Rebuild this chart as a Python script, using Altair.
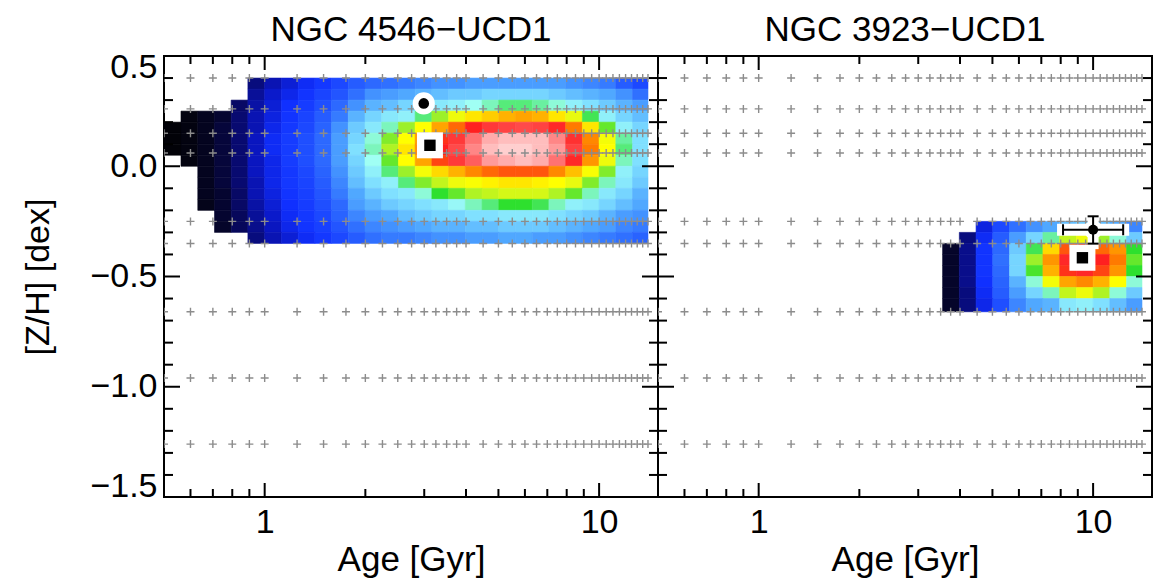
import altair as alt
import pandas as pd

FONT = "Liberation Sans"

# Log-spaced age bin edges of the likelihood grid (Gyr)
AGE_EDGES = [0.50, 0.562, 0.631, 0.708, 0.794, 0.891, 1.000, 1.122, 1.259, 1.413,
             1.585, 1.778, 1.995, 2.239, 2.512, 2.818, 3.162, 3.548, 3.981, 4.467,
             5.012, 5.623, 6.310, 7.079, 7.943, 8.913, 10.00, 11.22, 12.59, 14.0]

N = None

# NGC 4546-UCD1: relative likelihood (0-100) per [Z/H] band (top to bottom) and age bin
ZH_EDGES_4546 = [0.40, 0.35, 0.30, 0.25, 0.20, 0.15, 0.10, 0.05, 0.00,
                 -0.05, -0.10, -0.15, -0.20, -0.25, -0.30, -0.35]
LIKE_4546 = [
    [N, N, N, N, N, 17, 21, 24, 27, 30, 34, 37, 39, 40, 41, 42, 43, 43, 44, 44, 44, 44, 44, 44, 43, 42, 41, 37, 34],
    [N, N, N, N, N, 19, 23, 26, 29, 33, 36, 40, 43, 44, 45, 46, 47, 48, 48, 49, 49, 49, 49, 48, 47, 46, 45, 43, 40],
    [N, N, N, N, 15, 20, 24, 28, 31, 35, 39, 43, 46, 47, 49, 50, 51, 52, 54, 56, 58, 58, 57, 55, 52, 50, 48, 46, 44],
    [N, 4, 7, 10, 16, 21, 25, 29, 33, 37, 41, 46, 49, 51, 52, 58, 64, 69, 74, 76, 78, 79, 78, 74, 68, 59, 52, 49, 47],
    [2, 4, 7, 11, 16, 21, 26, 30, 34, 38, 43, 48, 51, 56, 64, 72, 79, 83, 87, 90, 91, 92, 91, 88, 82, 74, 62, 52, 49],
    [2, 4, 7, 11, 16, 22, 27, 31, 35, 39, 44, 49, 55, 63, 72, 80, 86, 90, 94, 97, 98, 98, 98, 95, 89, 81, 70, 57, 50],
    [2, 4, 7, 11, 16, 22, 27, 31, 35, 39, 44, 50, 56, 65, 74, 81, 87, 92, 95, 98, 99, 99, 98, 96, 91, 82, 72, 58, 50],
    [N, 4, 7, 11, 16, 22, 26, 31, 35, 39, 44, 49, 54, 62, 72, 79, 85, 90, 93, 96, 97, 98, 97, 94, 88, 80, 69, 56, 50],
    [N, N, 7, 11, 16, 22, 26, 30, 34, 38, 43, 48, 52, 58, 64, 70, 75, 78, 81, 83, 84, 84, 84, 81, 77, 71, 63, 52, 49],
    [N, N, 7, 11, 16, 21, 26, 30, 33, 37, 42, 47, 50, 52, 58, 63, 66, 69, 71, 73, 74, 74, 73, 72, 68, 63, 56, 51, 48],
    [N, N, 7, 10, 15, 21, 25, 29, 32, 36, 41, 45, 48, 50, 51, 55, 60, 62, 65, 66, 67, 67, 67, 65, 62, 56, 51, 49, 46],
    [N, N, 6, 10, 15, 20, 24, 28, 31, 35, 39, 44, 46, 48, 49, 50, 51, 53, 56, 58, 60, 60, 59, 56, 52, 51, 49, 47, 45],
    [N, N, N, 10, 14, 19, 23, 27, 30, 34, 38, 42, 44, 45, 47, 48, 49, 49, 50, 50, 51, 51, 51, 50, 49, 48, 46, 44, 43],
    [N, N, N, 9, 14, 18, 22, 26, 29, 32, 36, 40, 42, 43, 44, 45, 46, 46, 47, 47, 48, 48, 48, 47, 46, 45, 44, 42, 41],
    [N, N, N, N, N, 17, 21, 24, 27, 30, 34, 37, 40, 41, 41, 42, 43, 43, 44, 44, 45, 45, 44, 44, 43, 42, 41, 40, 38],
]

# NGC 3923-UCD1
ZH_EDGES_3923 = [-0.25, -0.30, -0.35, -0.40, -0.45, -0.50, -0.55, -0.60, -0.66]
LIKE_3923 = [
    [N] * 19 + [25, 34, 40, 43, 45, 47, 48, 47, 45, 42],
    [N] * 18 + [17, 27, 37, 44, 49, 57, 66, 69, 64, 55, 48],
    [N] * 17 + [9, 18, 29, 39, 48, 59, 75, 84, 86, 83, 80, 60],
    [N] * 17 + [9, 18, 29, 40, 49, 64, 80, 88, 90, 87, 82, 62],
    [N] * 17 + [9, 18, 29, 39, 49, 61, 78, 86, 88, 85, 80, 60],
    [N] * 17 + [9, 18, 28, 38, 46, 55, 70, 79, 81, 78, 72, 55],
    [N] * 17 + [9, 17, 27, 37, 44, 49, 56, 66, 69, 65, 55, 48],
    [N] * 17 + [9, 17, 26, 35, 42, 45, 46, 51, 52, 50, 47, 44],
]

# SSP model grid nodes
MODEL_AGES = [0.5, 0.6, 0.7, 0.8, 0.9, 1.0, 1.25, 1.5, 1.75, 2.0, 2.25, 2.5, 2.75,
              3.0, 3.25, 3.5, 3.75, 4.0, 4.5, 5.0, 5.5, 6.0, 6.5, 7.0, 7.5, 8.0,
              8.5, 9.0, 9.5, 10.0, 10.5, 11.0, 11.5, 12.0, 12.5, 13.0, 13.5, 14.0]
MODEL_ZH = [0.40, 0.26, 0.15, 0.06, -0.25, -0.35, -0.66, -0.96, -1.26]

# Colour table for the likelihood surface
LIKE_STOPS = [0, 5, 10, 16, 22, 28, 34, 40, 45, 50, 54, 57, 60, 64, 68, 72, 77, 82, 87, 92, 96, 100]
LIKE_COLORS = ["#000000", "#040414", "#050530", "#080a70", "#0a16c0", "#1030ff",
               "#1c48ff", "#3070ff", "#50a8ff", "#80e0ff", "#a0fff4", "#6af0a0",
               "#2ee02e", "#9cf02a", "#e8fa10", "#ffff00", "#ffc000", "#ff7a00",
               "#ff2020", "#ff4a4a", "#ff9a9a", "#ffe0e0"]

# Point estimates
CIRCLE_4546 = {"age": [2.99], "zh": [0.285]}
SQUARE_4546 = {"age": [3.12], "zh": [0.095]}
LIT_3923 = {"age": [10.0], "age_lo": [8.13], "age_hi": [12.3],
            "zh": [-0.288], "zh_lo": [-0.351], "zh_hi": [-0.227]}
SQUARE_3923 = {"age": [9.29], "zh": [-0.415]}

# Axis tick positions
Y_MAJOR = [-1.5, -1.0, -0.5, 0.0, 0.5]
Y_MINOR = [-1.4, -1.3, -1.2, -1.1, -0.9, -0.8, -0.7, -0.6,
           -0.4, -0.3, -0.2, -0.1, 0.1, 0.2, 0.3, 0.4]
X_MAJOR = [1, 10]
X_MINOR = [0.6, 0.7, 0.8, 0.9, 2, 3, 4, 5, 6, 7, 8, 9]

W, H = 494, 441
X_SCALE = alt.Scale(type="log", domain=[0.5, 15], nice=False)
Y_SCALE = alt.Scale(domain=[-1.5, 0.5], nice=False, zero=False)
COLOR_SCALE = alt.Scale(domain=LIKE_STOPS, range=LIKE_COLORS, interpolate="rgb")

X_AXIS = alt.Axis(values=X_MAJOR, format="~g", title="Age [Gyr]", grid=False, ticks=False,
                  domain=False, labelFont=FONT, titleFont=FONT, labelFontSize=34,
                  titleFontSize=35, titleFontWeight="normal", labelColor="black",
                  titleColor="black", labelPadding=8, titlePadding=3)
Y_LABEL_STYLE = dict(values=Y_MAJOR, format=".1f", grid=False, ticks=False, domain=False,
                     labelFont=FONT, labelFontSize=34, labelPadding=7, labelFlush=True,
                     labelFlushOffset=6)
Y_AXIS_L = alt.Axis(title="[Z/H] [dex]", titleFont=FONT, titleFontSize=34,
                    titleFontWeight="normal", titleColor="black", labelColor="black",
                    titlePadding=34, **Y_LABEL_STYLE)
# right-hand panel shares the [Z/H] scale; its labels are kept but not shown
Y_AXIS_R = alt.Axis(title="", labelOpacity=0, **Y_LABEL_STYLE)


def cell_frame(zh_edges, grid):
    rows = []
    for i, row in enumerate(grid):
        for k, v in enumerate(row):
            if v is None:
                continue
            rows.append({"age_lo": AGE_EDGES[k], "age_hi": AGE_EDGES[k + 1],
                         "zh_hi": zh_edges[i], "zh_lo": zh_edges[i + 1], "like": v})
    return pd.DataFrame(rows)


def xenc(field):
    return alt.X(field, type="quantitative", scale=X_SCALE, axis=X_AXIS)


def make_yenc(axis):
    def yenc(field):
        return alt.Y(field, type="quantitative", scale=Y_SCALE, axis=axis)
    return yenc


def tick_layers(yenc):
    layers = []
    for vals, ln in ((Y_MAJOR, 16), (Y_MINOR, 9)):
        base = alt.Chart(pd.DataFrame({"zh": vals})).mark_rule(color="black", strokeWidth=2)
        layers.append(base.encode(y=yenc("zh"), x=alt.value(0), x2=alt.value(ln)))
        layers.append(base.encode(y=yenc("zh"), x=alt.value(W), x2=alt.value(W - ln)))
    for vals, ln in ((X_MAJOR, 14), (X_MINOR, 8)):
        base = alt.Chart(pd.DataFrame({"age": vals})).mark_rule(color="black", strokeWidth=2)
        layers.append(base.encode(x=xenc("age"), y=alt.value(H), y2=alt.value(H - ln)))
        layers.append(base.encode(x=xenc("age"), y=alt.value(0), y2=alt.value(ln)))
    return layers


grid_df = pd.DataFrame([{"age": a, "zh": z} for z in MODEL_ZH for a in MODEL_AGES])


def base_layers(cells, yenc):
    heat = alt.Chart(cells).mark_rect(strokeWidth=0.6).encode(
        x=xenc("age_lo"), x2="age_hi:Q",
        y=yenc("zh_lo"), y2="zh_hi:Q",
        color=alt.Color("like:Q", scale=COLOR_SCALE, legend=None),
        stroke=alt.Stroke("like:Q", scale=COLOR_SCALE, legend=None),
    )
    pluses = alt.Chart(grid_df).mark_point(
        shape="M-1,0H1M0,-1V1", size=64, filled=False, strokeWidth=1.4,
        color="#8c8c8c", opacity=1, clip=True,
    ).encode(x=xenc("age"), y=yenc("zh"))
    return [heat, pluses]


def symbol(data, shape, size, color, yenc):
    return alt.Chart(pd.DataFrame(data)).mark_point(
        shape=shape, size=size, filled=True, color=color, opacity=1, strokeWidth=0
    ).encode(x=xenc("age"), y=yenc("zh"))


def panel_title(text):
    return alt.TitleParams(text=text, font=FONT, fontSize=35, fontWeight="normal",
                           color="black", anchor="middle", frame="group", offset=2)


# Left panel
yl = make_yenc(Y_AXIS_L)
left_layers = base_layers(cell_frame(ZH_EDGES_4546, LIKE_4546), yl)
left_layers += [
    symbol(CIRCLE_4546, "circle", 490, "white", yl),
    symbol(CIRCLE_4546, "circle", 113, "black", yl),
    symbol(SQUARE_4546, "square", 676, "white", yl),
    symbol(SQUARE_4546, "square", 130, "black", yl),
]
left_layers += tick_layers(yl)
left = alt.layer(*left_layers).properties(width=W, height=H, title=panel_title("NGC 4546−UCD1"))

# Right panel
yr = make_yenc(Y_AXIS_R)
lit = pd.DataFrame(LIT_3923)
right_layers = base_layers(cell_frame(ZH_EDGES_3923, LIKE_3923), yr)
right_layers += [
    symbol(SQUARE_3923, "square", 676, "white", yr),
    symbol(SQUARE_3923, "square", 130, "black", yr),
    alt.Chart(lit).mark_rule(color="white", strokeWidth=12, strokeCap="square").encode(
        x=xenc("age_lo"), x2="age_hi:Q", y=yr("zh")),
    alt.Chart(lit).mark_rule(color="white", strokeWidth=11, strokeCap="square").encode(
        x=xenc("age"), y=yr("zh_lo"), y2="zh_hi:Q"),
    symbol(LIT_3923, "circle", 340, "white", yr),
    alt.Chart(lit).mark_rule(color="black", strokeWidth=2).encode(
        x=xenc("age_lo"), x2="age_hi:Q", y=yr("zh")),
    alt.Chart(lit).mark_rule(color="black", strokeWidth=2).encode(
        x=xenc("age"), y=yr("zh_lo"), y2="zh_hi:Q"),
    alt.Chart(lit).mark_tick(orient="vertical", size=11, thickness=2, color="black", opacity=1).encode(
        x=xenc("age_lo"), y=yr("zh")),
    alt.Chart(lit).mark_tick(orient="vertical", size=11, thickness=2, color="black", opacity=1).encode(
        x=xenc("age_hi"), y=yr("zh")),
    alt.Chart(lit).mark_tick(orient="horizontal", size=11, thickness=2, color="black", opacity=1).encode(
        x=xenc("age"), y=yr("zh_lo")),
    alt.Chart(lit).mark_tick(orient="horizontal", size=11, thickness=2, color="black", opacity=1).encode(
        x=xenc("age"), y=yr("zh_hi")),
    symbol(LIT_3923, "circle", 100, "black", yr),
]
right_layers += tick_layers(yr)
right = alt.layer(*right_layers).properties(width=W, height=H, title=panel_title("NGC 3923−UCD1"))

chart = alt.hconcat(left, right, spacing=0, bounds="flush").properties(
    padding={"left": 20, "top": 12, "right": 2, "bottom": 2},
    background="white",
).configure_view(stroke="black", strokeWidth=2)

chart.save("out.html", embed_options={"renderer": "svg", "actions": False})
